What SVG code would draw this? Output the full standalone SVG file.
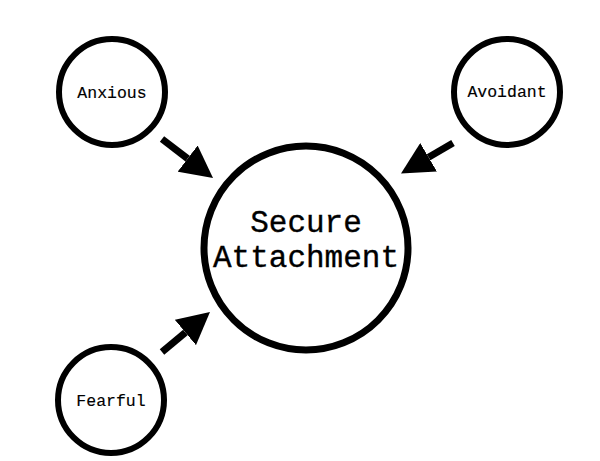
<svg xmlns="http://www.w3.org/2000/svg" width="600" height="461" viewBox="0 0 600 461">
  <style>
    .node { fill: #fff; stroke: #000; stroke-width: 6; }
    .big { stroke-width: 7; }
    .lbl { font-family: "Liberation Mono", "Courier New", monospace; fill: #000; stroke: #000; stroke-width: 0.35; text-anchor: middle; }
    .sm { font-size: 16.5px; stroke-width: 0.15; }
    .conn { stroke: #000; stroke-width: 7; fill: none; marker-end: url(#head); }
  </style>
  <defs>
    <marker id="head" viewBox="0 0 32 33" markerWidth="32" markerHeight="33" markerUnits="userSpaceOnUse" refX="0" refY="16.5" orient="auto">
      <path d="M0,0 L32,16.5 L0,33 Z" fill="#000"/>
    </marker>
  </defs>
  <rect width="600" height="461" fill="#fff"/>
  <g id="connectors">
    <line class="conn" x1="162" y1="139" x2="187.6" y2="158.6"/>
    <line class="conn" x1="453" y1="143" x2="428.6" y2="157.3"/>
    <line class="conn" x1="162" y1="352" x2="185.4" y2="332.5"/>
  </g>
  <g id="secure">
    <circle class="node big" cx="306" cy="248" r="102"/>
    <text class="lbl" x="306" y="232" font-size="31">Secure</text>
    <text class="lbl" x="306" y="267" font-size="31">Attachment</text>
  </g>
  <g id="anxious">
    <circle class="node" cx="112" cy="92" r="53"/>
    <text class="lbl sm" x="112" y="98">Anxious</text>
  </g>
  <g id="avoidant">
    <circle class="node" cx="507" cy="92" r="53"/>
    <text class="lbl sm" x="507" y="97">Avoidant</text>
  </g>
  <g id="fearful">
    <circle class="node" cx="111" cy="400" r="53"/>
    <text class="lbl sm" x="111" y="406">Fearful</text>
  </g>
</svg>
